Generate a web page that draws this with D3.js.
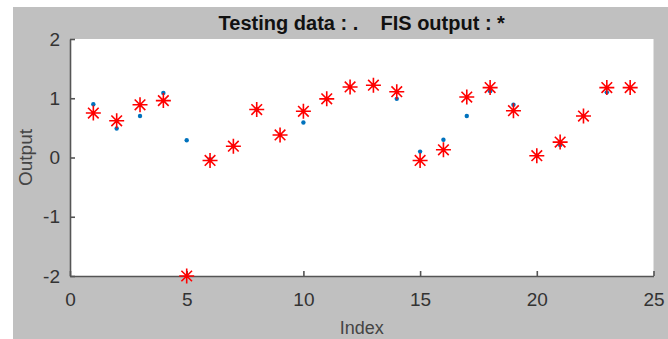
<!DOCTYPE html>
<html>
<head>
<meta charset="utf-8">
<script src="https://cdn.jsdelivr.net/npm/d3@7"></script>
<style>
  body { margin: 0; background: #fff; }
  text { font-family: "Liberation Sans", Arial, sans-serif; }
</style>
</head>
<body>
<div id="container"></div>
<script>
// values
const index = d3.range(1, 25)
const testingData = [0.90, 0.49, 0.70, 1.09, 0.29, -0.03, 0.19, 0.81, 0.38, 0.59, 0.99, 1.19,
  1.22, 0.99, 0.10, 0.30, 0.70, 1.12, 0.89, 0.03, 0.21, 0.70, 1.10, 1.18]
const fisOutput = [0.75, 0.62, 0.89, 0.96, -2.0, -0.05, 0.19, 0.81, 0.38, 0.78, 0.99, 1.19,
  1.22, 1.11, -0.05, 0.13, 1.02, 1.18, 0.79, 0.03, 0.26, 0.70, 1.18, 1.18]
const xTicks = [0, 5, 10, 15, 20, 25]
const yTicks = [-2, -1, 0, 1, 2]

const width = 668, height = 339
const plot = { left: 70, right: 653.5, top: 39, bottom: 276 }

const svg = d3.select('#container')
  .append('svg')
  .attr('width', width)
  .attr('height', height)

// figure background
svg.append('rect')
  .attr('x', 13).attr('y', 7)
  .attr('width', width - 13).attr('height', height - 7)
  .style('fill', '#c0c0c0')

svg.append('rect')
  .attr('x', plot.left).attr('y', plot.top)
  .attr('width', plot.right - plot.left).attr('height', plot.bottom - plot.top)
  .style('fill', '#fff')

const x = d3.scaleLinear().domain([0, 25]).range([plot.left, plot.right])
const y = d3.scaleLinear().domain([-2, 2]).range([plot.bottom, plot.top])

// plain hyphen minus, like matlab
const fmt = d => String(d)

const xAxis = svg.append('g')
  .attr('transform', `translate(0 ${plot.bottom})`)
  .call(d3.axisBottom(x).tickValues(xTicks).tickFormat(fmt)
    .tickSizeInner(-5).tickSizeOuter(0).tickPadding(17))

const yAxis = svg.append('g')
  .attr('transform', `translate(${plot.left} 0)`)
  .call(d3.axisLeft(y).tickValues(yTicks).tickFormat(fmt)
    .tickSizeInner(-5).tickSizeOuter(0).tickPadding(10))

for (const ax of [xAxis, yAxis]) {
  ax.select('.domain').style('stroke', '#555').style('stroke-width', 1.6)
  ax.selectAll('.tick line').style('stroke', '#555').style('stroke-width', 1.6)
  ax.selectAll('.tick text')
    .style('font-size', '19px')
    .style('fill', '#333')
}

// testing data : .
svg.append('g')
  .selectAll('circle')
  .data(index)
  .enter().append('circle')
  .attr('cx', d => x(d))
  .attr('cy', (d, i) => y(testingData[i]))
  .attr('r', 2.2)
  .style('fill', '#0072bd')

// FIS output : *
const r = 7.5, k = r * Math.SQRT1_2
const starPath = `M${-r},0H${r}M0,${-r}V${r}M${-k},${-k}L${k},${k}M${-k},${k}L${k},${-k}`

svg.append('g')
  .selectAll('path')
  .data(index)
  .enter().append('path')
  .attr('transform', (d, i) => `translate(${x(d)} ${y(fisOutput[i])})`)
  .attr('d', starPath)
  .style('fill', 'none')
  .style('stroke', '#ff0000')
  .style('stroke-width', 1.6)

svg.append('text')
  .attr('x', (plot.left + plot.right) / 2)
  .attr('y', 30)
  .attr('text-anchor', 'middle')
  .style('font-size', '20px')
  .style('font-weight', 'bold')
  .style('fill', '#111')
  .style('white-space', 'pre')
  .text('Testing data : .    FIS output : *')

svg.append('text')
  .attr('x', (plot.left + plot.right) / 2)
  .attr('y', 334)
  .attr('text-anchor', 'middle')
  .style('font-size', '18px')
  .style('fill', '#444')
  .text('Index')

svg.append('text')
  .attr('transform', `translate(32 ${y(0)}) rotate(-90)`)
  .attr('text-anchor', 'middle')
  .style('font-size', '19px')
  .style('fill', '#444')
  .text('Output')
</script>
</body>
</html>
